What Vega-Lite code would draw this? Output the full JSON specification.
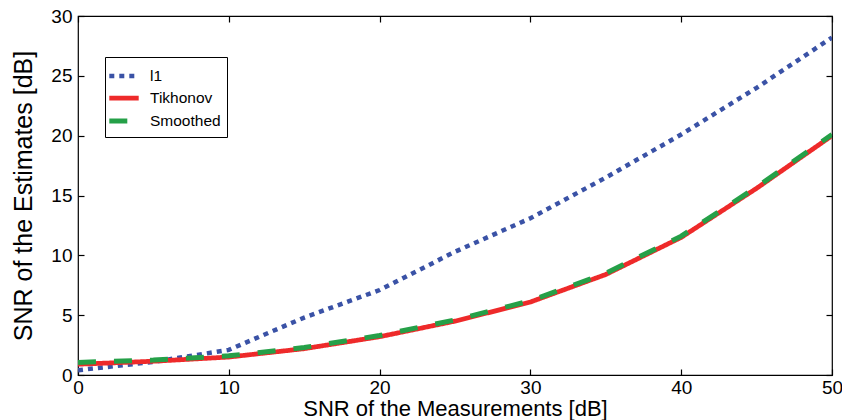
{
  "$schema": "https://vega.github.io/schema/vega-lite/v6.json",
  "width": 754,
  "height": 359,
  "autosize": {"type": "none"},
  "padding": {"left": 78, "top": 16, "right": 10, "bottom": 45},
  "background": "white",
  "config": {
    "font": "Liberation Sans",
    "view": {"stroke": "black", "strokeWidth": 1.2},
    "axis": {
      "grid": false,
      "domain": false,
      "tickColor": "black",
      "tickSize": -6,
      "tickWidth": 1.2,
      "labelFontSize": 19,
      "labelColor": "black",
      "titleColor": "black",
      "titleFontWeight": "normal",
      "labelFont": "Liberation Sans",
      "titleFont": "Liberation Sans"
    }
  },
  "data": {
    "values": [
      {"snr": 0, "est": 0.4, "series": "l1"},
      {"snr": 5, "est": 1.1, "series": "l1"},
      {"snr": 10, "est": 2.1, "series": "l1"},
      {"snr": 15, "est": 4.8, "series": "l1"},
      {"snr": 20, "est": 7.1, "series": "l1"},
      {"snr": 25, "est": 10.3, "series": "l1"},
      {"snr": 30, "est": 13.1, "series": "l1"},
      {"snr": 35, "est": 16.5, "series": "l1"},
      {"snr": 40, "est": 20.1, "series": "l1"},
      {"snr": 45, "est": 24.0, "series": "l1"},
      {"snr": 50, "est": 28.2, "series": "l1"},
      {"snr": 0, "est": 0.9, "series": "Tikhonov"},
      {"snr": 5, "est": 1.15, "series": "Tikhonov"},
      {"snr": 10, "est": 1.5, "series": "Tikhonov"},
      {"snr": 15, "est": 2.2, "series": "Tikhonov"},
      {"snr": 20, "est": 3.2, "series": "Tikhonov"},
      {"snr": 25, "est": 4.5, "series": "Tikhonov"},
      {"snr": 30, "est": 6.1, "series": "Tikhonov"},
      {"snr": 35, "est": 8.4, "series": "Tikhonov"},
      {"snr": 40, "est": 11.5, "series": "Tikhonov"},
      {"snr": 45, "est": 15.6, "series": "Tikhonov"},
      {"snr": 50, "est": 20.0, "series": "Tikhonov"},
      {"snr": 0, "est": 1.05, "series": "Smoothed"},
      {"snr": 5, "est": 1.25, "series": "Smoothed"},
      {"snr": 10, "est": 1.6, "series": "Smoothed"},
      {"snr": 15, "est": 2.3, "series": "Smoothed"},
      {"snr": 20, "est": 3.3, "series": "Smoothed"},
      {"snr": 25, "est": 4.6, "series": "Smoothed"},
      {"snr": 30, "est": 6.2, "series": "Smoothed"},
      {"snr": 35, "est": 8.5, "series": "Smoothed"},
      {"snr": 40, "est": 11.6, "series": "Smoothed"},
      {"snr": 45, "est": 15.7, "series": "Smoothed"},
      {"snr": 50, "est": 20.1, "series": "Smoothed"}
    ]
  },
  "layer": [
    {
      "mark": {"type": "line", "clip": true},
      "encoding": {
        "x": {
          "field": "snr", "type": "quantitative",
          "scale": {"domain": [0, 50], "nice": false},
          "axis": {"values": [0, 10, 20, 30, 40, 50], "title": "SNR of the Measurements [dB]", "titleFontSize": 22, "titlePadding": 1, "labelPadding": 9, "labelFlush": false}
        },
        "y": {
          "field": "est", "type": "quantitative",
          "scale": {"domain": [0, 30], "nice": false},
          "axis": {"values": [0, 5, 10, 15, 20, 25, 30], "title": "SNR of the Estimates [dB]", "titleFontSize": 25, "titlePadding": 14, "labelPadding": 12}
        },
        "color": {
          "field": "series", "type": "nominal",
          "scale": {"domain": ["l1", "Tikhonov", "Smoothed"], "range": ["#3a52a6", "#ee2a2a", "#25a048"]},
          "legend": {
            "title": null,
            "orient": "none",
            "legendX": 27,
            "legendY": 41,
            "symbolType": "M-1.4,0H1.4",
            "symbolSize": 441,
            "symbolStrokeWidth": 4.5,
            "labelFontSize": 15.5,
            "labelColor": "black",
            "labelOffset": 13,
            "rowPadding": 0,
            "padding": 6,
            "strokeColor": "black",
            "fillColor": "white",
            "cornerRadius": 0
          }
        },
        "strokeDash": {
          "field": "series", "type": "nominal",
          "scale": {"domain": ["l1", "Tikhonov", "Smoothed"], "range": [[5, 5], [1, 0], [18, 18]]}
        },
        "strokeWidth": {
          "field": "series", "type": "nominal",
          "scale": {"domain": ["l1", "Tikhonov", "Smoothed"], "range": [4.5, 5, 4.5]},
          "legend": null
        }
      }
    },
    {
      "mark": {"type": "point", "opacity": 0},
      "encoding": {
        "x": {
          "field": "snr", "type": "quantitative",
          "axis": {"orient": "top", "values": [0, 10, 20, 30, 40, 50], "labels": false, "title": null}
        },
        "y": {
          "field": "est", "type": "quantitative",
          "axis": {"orient": "right", "values": [0, 5, 10, 15, 20, 25, 30], "labels": false, "title": null}
        }
      }
    }
  ],
  "resolve": {"axis": {"x": "independent", "y": "independent"}}
}
